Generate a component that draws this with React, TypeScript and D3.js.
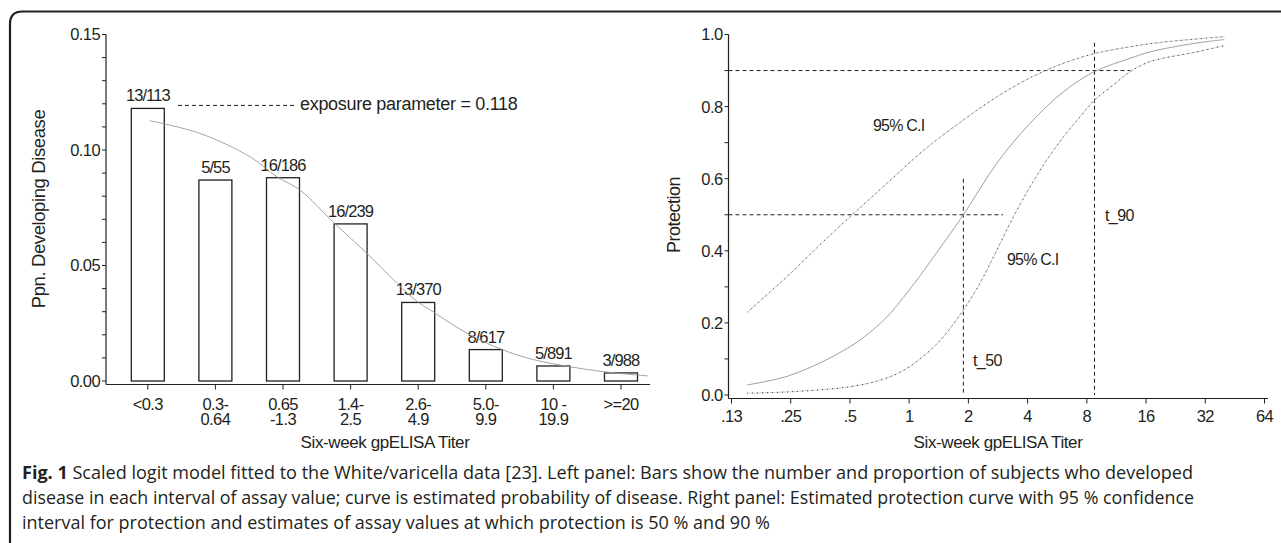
import React from 'react';
import * as d3 from 'd3';

// ---------- Left panel data ----------
const categoryLabels: string[][] = [
  ['<0.3'], ['0.3-', '0.64'], ['0.65', '-1.3'], ['1.4-', '2.5'],
  ['2.6-', '4.9'], ['5.0-', '9.9'], ['10 -', '19.9'], ['>=20'],
];
const barValues = [0.118, 0.087, 0.088, 0.068, 0.034, 0.0136, 0.0065, 0.0035];
const barLabels = ['13/113', '5/55', '16/186', '16/239', '13/370', '8/617', '5/891', '3/988'];
// fitted probability curve, position in category units
const fitPos = [0.03, 0.77, 1.51, 1.91, 2.25, 2.76, 3.24, 3.93, 4.25, 4.72, 5.24, 5.7, 6.24, 6.75, 7.4];
const fitVal = [0.1127, 0.1072, 0.0971, 0.0884, 0.0827, 0.0683, 0.0553, 0.0357, 0.0294, 0.0207, 0.0136, 0.0093, 0.0062, 0.004, 0.0022];
const leftYTicks = [0, 0.05, 0.1, 0.15];
const leftYTickLabels = ['0.00', '0.05', '0.10', '0.15'];
const exposureParam = 0.118;

// ---------- Right panel data ----------
const rightXTicks = [0.125, 0.25, 0.5, 1, 2, 4, 8, 16, 32, 64];
const rightXTickLabels = ['.13', '.25', '.5', '1', '2', '4', '8', '16', '32', '64'];
const rightYTicks = [0, 0.2, 0.4, 0.6, 0.8, 1.0];
const rightYTickLabels = ['0.0', '0.2', '0.4', '0.6', '0.8', '1.0'];
const curveTiter = [0.15, 0.25, 0.5, 0.75, 1.0, 1.28, 1.886, 2.79, 4.12, 6.08, 8.75, 13.3, 16.8, 27.9, 40];
const curveProt = [0.028, 0.055, 0.134, 0.21, 0.291, 0.37, 0.5, 0.643, 0.754, 0.841, 0.897, 0.934, 0.952, 0.975, 0.986];
const upperTiter = [0.15, 0.25, 0.366, 0.542, 0.8, 1.18, 1.886, 2.79, 4.12, 6.08, 8.75, 13.3, 18.9, 40];
const upperProt = [0.229, 0.338, 0.4255, 0.5115, 0.595, 0.678, 0.763, 0.827, 0.88, 0.92, 0.947, 0.966, 0.978, 0.994];
const lowerTiter = [0.15, 0.25, 0.5, 0.75, 1.0, 1.43, 1.886, 2.29, 2.79, 3.39, 4.12, 5.01, 6.08, 7.4, 8.75, 10.9, 13.3, 16.8, 27.9, 40];
const lowerProt = [0.005, 0.009, 0.023, 0.045, 0.078, 0.15, 0.236, 0.31, 0.402, 0.495, 0.578, 0.652, 0.716, 0.772, 0.818, 0.86, 0.897, 0.925, 0.95, 0.969];
const t50 = 1.886;
const t90 = 8.75;
const t50LineTop = 0.6;
const t90LineTop = 0.977;
const p50LineEnd = 3.0;
const p90LineEnd = 13.3;

const caption1Rest = ' Scaled logit model fitted to the White/varicella data [23]. Left panel: Bars show the number and proportion of subjects who developed';
const caption2 = 'disease in each interval of assay value; curve is estimated probability of disease. Right panel: Estimated protection curve with 95 % confidence';
const caption3 = 'interval for protection and estimates of assay values at which protection is 50 % and 90 %';

const INK = '#231f20';
const FONT = '"Liberation Sans", Arial, Helvetica, sans-serif';

export default function App() {
  const W = 1281, H = 543;

  // Left scales
  const idx = d3.range(categoryLabels.length);
  const xBand = d3.scaleBand<number>().domain(idx).range([114, 654.8]).padding(0);
  const barW = xBand.bandwidth() * 0.488;
  const xCenter = (i: number) => (xBand(i) as number) + xBand.bandwidth() / 2;
  const xPos = d3.scaleLinear().domain([0, 1]).range([xCenter(0), xCenter(1)]);
  const yL = d3.scaleLinear().domain([0, 0.15]).range([381, 34.5]);
  const lAxisX = 106, lAxisY = 384.5, lAxisEnd = 650;

  const fitLine = d3.line<number>()
    .x((_, i) => xPos(fitPos[i]))
    .y((d) => yL(d))
    .curve(d3.curveCatmullRom.alpha(0.5))(fitVal) as string;

  // Right scales
  const xR = d3.scaleLog().base(2).domain([0.125, 64]).range([731.5, 1264.5]);
  const yR = d3.scaleLinear().domain([0, 1]).range([395, 34.5]);
  const rAxisX = 728.5, rAxisY = 398.5, rAxisEnd = 1268;

  const mk = (t: number[], p: number[]) =>
    d3.line<number>().x((_, i) => xR(t[i])).y((d) => yR(d)).curve(d3.curveCatmullRom.alpha(0.5))(p) as string;
  const mainPath = mk(curveTiter, curveProt);
  const upperPath = mk(upperTiter, upperProt);
  const lowerPath = mk(lowerTiter, lowerProt);

  const leftMinor = d3.range(0, 0.1501, 0.01);
  const rightMinor = d3.range(0, 1.0001, 0.1);

  const dash = '4,3';
  const tickFs = 16.5;
  const tickLs = -0.6;

  return (
    <svg width={W} height={H} style={{ position: 'absolute', left: 0, top: 0, background: '#fff' }}
      fontFamily={FONT} fill={INK}>
      <rect x={0} y={0} width={W} height={H} fill="#fff" />
      {/* frame */}
      <path d="M10,543 V24 Q10,11.5 22.5,11.5 H1281" fill="none" stroke={INK} strokeWidth={2.2} />

      {/* ---------- LEFT PANEL ---------- */}
      <g>
        {barValues.map((v, i) => (
          <rect key={i} x={xCenter(i) - barW / 2} y={yL(v)} width={barW} height={yL(0) - yL(v)}
            fill="#fff" stroke={INK} strokeWidth={1.3} />
        ))}
        {barValues.map((v, i) => (
          <text key={'bl' + i} x={xCenter(i)} y={yL(v) - 7} textAnchor="middle" fontSize={16.5} letterSpacing={-0.9}>
            {barLabels[i]}
          </text>
        ))}
        <path d={fitLine} fill="none" stroke="#9a9a9a" strokeWidth={0.9} />
        <line x1={178} x2={295} y1={yL(exposureParam) - 3} y2={yL(exposureParam) - 3} stroke={INK} strokeWidth={1} strokeDasharray={dash} />
        <text x={300} y={yL(exposureParam) + 2} fontSize={18} letterSpacing={-0.3}>exposure parameter = {exposureParam}</text>

        {/* axes */}
        <line x1={lAxisX} x2={lAxisX} y1={yL(0.15)} y2={lAxisY} stroke={INK} strokeWidth={1.2} />
        <line x1={lAxisX} x2={lAxisEnd} y1={lAxisY} y2={lAxisY} stroke={INK} strokeWidth={1.2} />
        {leftMinor.map((t, i) => (
          <line key={'lm' + i} x1={lAxisX - 4} x2={lAxisX} y1={yL(t)} y2={yL(t)} stroke={INK} strokeWidth={1} />
        ))}
        {leftYTicks.map((t, i) => (
          <text key={'ly' + i} x={lAxisX - 6} y={yL(t)} dy="0.36em" textAnchor="end" fontSize={tickFs} letterSpacing={tickLs}>
            {leftYTickLabels[i]}
          </text>
        ))}
        {idx.map((i) => (
          <g key={'lx' + i}>
            <line x1={xCenter(i)} x2={xCenter(i)} y1={lAxisY} y2={lAxisY + 5} stroke={INK} strokeWidth={1} />
            {categoryLabels[i].map((s, j) => (
              <text key={j} x={xCenter(i)} y={409.5 + j * 15.5} textAnchor="middle" fontSize={tickFs} letterSpacing={tickLs}>{s}</text>
            ))}
          </g>
        ))}
        <text x={385} y={448} textAnchor="middle" fontSize={17} letterSpacing={-0.4}>Six-week gpELISA Titer</text>
        <text transform="translate(44.5,209) rotate(-90)" textAnchor="middle" fontSize={18.5} letterSpacing={-0.4}>Ppn. Developing Disease</text>
      </g>

      {/* ---------- RIGHT PANEL ---------- */}
      <g>
        <line x1={rAxisX} x2={xR(p90LineEnd)} y1={yR(0.9)} y2={yR(0.9)} stroke={INK} strokeWidth={1} strokeDasharray={dash} />
        <line x1={rAxisX} x2={xR(p50LineEnd)} y1={yR(0.5)} y2={yR(0.5)} stroke={INK} strokeWidth={1} strokeDasharray={dash} />
        <line x1={xR(t50)} x2={xR(t50)} y1={yR(t50LineTop)} y2={yR(0)} stroke={INK} strokeWidth={1} strokeDasharray={dash} />
        <line x1={xR(t90)} x2={xR(t90)} y1={yR(t90LineTop)} y2={yR(0)} stroke={INK} strokeWidth={1} strokeDasharray={dash} />

        <path d={upperPath} fill="none" stroke="#c8c8c8" strokeWidth={0.8} />
        <path d={upperPath} fill="none" stroke="#333" strokeWidth={1} strokeDasharray="1,4" />
        <path d={lowerPath} fill="none" stroke="#c8c8c8" strokeWidth={0.8} />
        <path d={lowerPath} fill="none" stroke="#333" strokeWidth={1} strokeDasharray="1,4" />
        <path d={mainPath} fill="none" stroke="#a0a0a0" strokeWidth={1} />

        <text x={873} y={131} fontSize={16} letterSpacing={-0.8}>95% C.I</text>
        <text x={1007} y={265} fontSize={16} letterSpacing={-0.8}>95% C.I</text>
        <text x={1105} y={221} fontSize={16} letterSpacing={-0.6}>t_90</text>
        <text x={973} y={366} fontSize={16} letterSpacing={-0.6}>t_50</text>

        <line x1={rAxisX} x2={rAxisX} y1={yR(1)} y2={rAxisY} stroke={INK} strokeWidth={1.2} />
        <line x1={rAxisX} x2={rAxisEnd} y1={rAxisY} y2={rAxisY} stroke={INK} strokeWidth={1.2} />
        {rightMinor.map((t, i) => (
          <line key={'rm' + i} x1={rAxisX - 4} x2={rAxisX} y1={yR(t)} y2={yR(t)} stroke={INK} strokeWidth={1} />
        ))}
        {rightYTicks.map((t, i) => (
          <text key={'ry' + i} x={rAxisX - 6} y={yR(t)} dy="0.36em" textAnchor="end" fontSize={tickFs} letterSpacing={tickLs}>
            {rightYTickLabels[i]}
          </text>
        ))}
        {rightXTicks.map((t, i) => (
          <g key={'rx' + i}>
            <line x1={xR(t)} x2={xR(t)} y1={rAxisY} y2={rAxisY + 5} stroke={INK} strokeWidth={1} />
            <text x={xR(t)} y={422} textAnchor="middle" fontSize={tickFs} letterSpacing={tickLs}>{rightXTickLabels[i]}</text>
          </g>
        ))}
        <text x={998} y={448} textAnchor="middle" fontSize={17} letterSpacing={-0.4}>Six-week gpELISA Titer</text>
        <text transform="translate(680,215) rotate(-90)" textAnchor="middle" fontSize={18} letterSpacing={-0.5}>Protection</text>
      </g>

      {/* ---------- CAPTION ---------- */}
      <g fontFamily='"Open Sans", "Noto Sans", sans-serif' fontSize={18.5} fill={INK}>
        <text x={22} y={479} textLength={1171} lengthAdjust="spacingAndGlyphs">
          <tspan fontWeight="bold">Fig. 1</tspan>{caption1Rest}
        </text>
        <text x={22} y={504} textLength={1172} lengthAdjust="spacingAndGlyphs">{caption2}</text>
        <text x={22} y={529} textLength={748} lengthAdjust="spacingAndGlyphs">{caption3}</text>
      </g>
    </svg>
  );
}
